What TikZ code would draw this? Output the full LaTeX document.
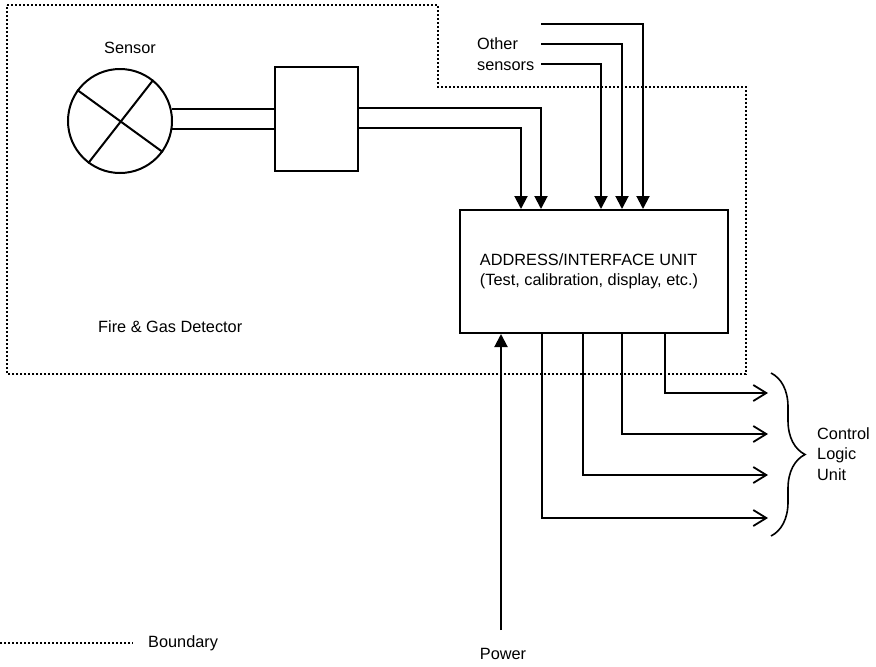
\documentclass[tikz,border=0pt]{standalone}
\usepackage{fontspec}
\setmainfont{Liberation Sans}
\usetikzlibrary{arrows.meta,decorations.pathreplacing,calc}
\begin{document}
\begin{tikzpicture}[x=1pt,y=-1pt,
  every node/.style={font=\fontsize{16.3}{20.5}\selectfont, inner sep=0pt},
  ln/.style={line width=2pt, line join=miter},
  tri/.style={ln, -{Triangle[length=13pt,width=13pt]}},
  opn/.style={ln, -{Straight Barb[length=13pt,width=16pt,line width=1.8pt]}},
  bnd/.style={line width=1.7pt, dash pattern=on 1.6pt off 2.4pt},
  boxy/.style={draw, ln, rectangle}]
\useasboundingbox (0,0) rectangle (876,667);
% boundary
\draw[bnd] (7,5) -- (438,5) -- (438,87) -- (746,87) -- (746,374) -- (7,374) -- cycle;
% sensor
\node[draw, ln, circle, minimum size=104pt] (sensor) at (120,121) {};
\draw[ln] (sensor.144) -- (sensor.-36);
\draw[ln] (sensor.51) -- (sensor.233);
\node (sensorlbl) at (130,48) {Sensor};
% converter box
\node[boxy, minimum width=83pt, minimum height=104pt] (conv) at (316.5,119) {};
\draw[ln] (sensor.13) -- (conv.west |- sensor.13);
\draw[ln] (sensor.-9) -- (conv.west |- sensor.-9);
% address unit
\node[boxy, minimum width=268pt, minimum height=123pt, align=left] (aiu) at (594,271.5)
  {\hspace*{-10pt}ADDRESS/INTERFACE UNIT\\\hspace*{-10pt}(Test, calibration, display, etc.)};
\draw[tri] ([yshift=11pt]conv.east) -| ([xshift=82pt]aiu.north west);
\draw[tri] ([yshift=-9pt]conv.east) -| ([xshift=62pt]aiu.north west);
% other sensors
\node[anchor=west, align=left] (other) at (477,54) {Other\\sensors};
\coordinate (os1) at (541,24);
\coordinate (os2) at (541,44);
\coordinate (os3) at (541,64);
\draw[tri] (os1) -| ([xshift=184pt]aiu.north west);
\draw[tri] (os2) -| ([xshift=163pt]aiu.north west);
\draw[tri] (os3) -| ([xshift=142pt]aiu.north west);
% power
\coordinate (pw) at (501,630);
\draw[tri] (pw) -- (pw |- aiu.south);
\node (powerlbl) at (503,654) {Power};
% outputs
\coordinate (o1) at (768,393);
\coordinate (o2) at (768,434);
\coordinate (o3) at (768,475);
\coordinate (o4) at (768,518);
\draw[opn] ([xshift=206pt]aiu.south west) |- (o1);
\draw[opn] ([xshift=163pt]aiu.south west) |- (o2);
\draw[opn] ([xshift=124pt]aiu.south west) |- (o3);
\draw[opn] ([xshift=83pt]aiu.south west) |- (o4);
% brace
\coordinate (bt) at (771,373);
\coordinate (bb) at (771,536);
\draw[line width=1.6pt, decorate, decoration={brace, amplitude=34pt}] (bt) -- (bb);
\node[anchor=west, align=left] (clu) at (817,454) {Control\\Logic\\Unit};
% labels
\node[anchor=west] (fgd) at (98,327) {Fire \& Gas Detector};
\coordinate (lg1) at (0,643);
\coordinate (lg2) at (133,643);
\draw[bnd] (lg1) -- (lg2);
\node[anchor=west] (bndlbl) at (148,643) {Boundary};
\end{tikzpicture}
\end{document}
